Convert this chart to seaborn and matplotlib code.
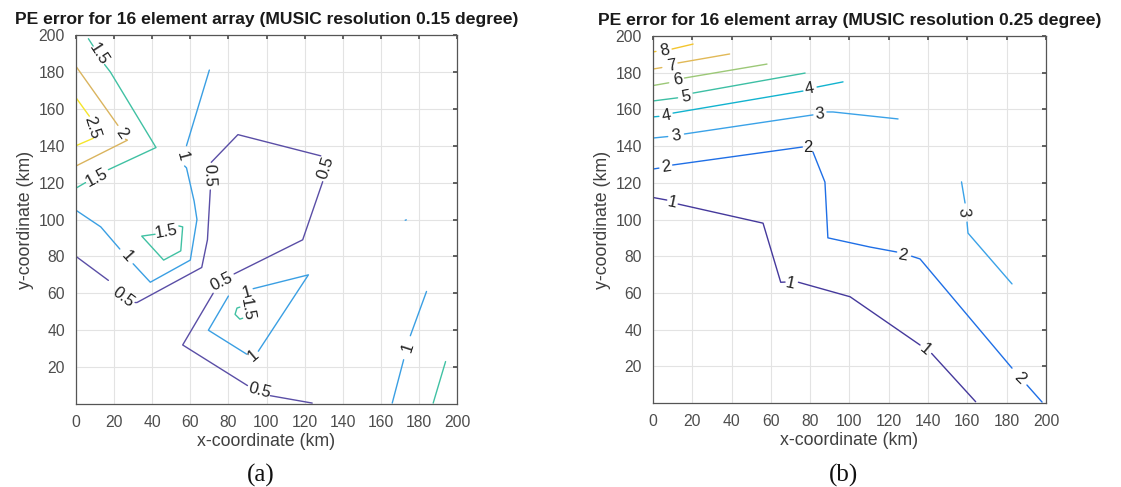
"""
PE error contours for a 16 element array, two MUSIC resolutions
"""

import pandas as pd
import seaborn as sns
import matplotlib.pyplot as plt

# ---- panel (a): MUSIC resolution 0.15 degree ----
a_level = [1.5, 1.5, 1.5, 2, 2, 2.5, 2.5,
           1, 1, 1,
           0.5, 0.5, 0.5, 0.5, 0.5, 0.5,
           1.5, 1, 1, 1.5, 1, 1, 1.5, 1]
a_x = [[6.5, 9], [15, 18, 42, 17], [5, 0],
       [0, 22], [26, 27, 0],
       [0, 7], [9, 0],
       [70, 58], [57, 58, 62, 63.5, 60, 39, 30], [23, 13, 0],
       [0, 17], [31, 32, 66, 69, 70.5], [71, 85, 128.5], [129.5, 119, 83],
       [72, 56, 90], [102, 124],
       [54, 56, 55, 46, 34.5, 41.5],
       [95.7, 122, 93], [80, 69.5, 89.6],
       [87.5, 86, 83.5, 84.5, 86],
       [166, 172], [175.5, 184],
       [187.5, 194],
       [172.8, 173.4]]
a_y = [[198, 194], [184, 180, 139, 127], [120, 117],
       [183, 151], [143.5, 143, 129],
       [166, 156], [144, 140],
       [181, 140], [129, 128, 110, 100, 78, 66, 76], [84, 96, 105],
       [80, 67], [55, 55, 74, 89, 116], [131, 146, 134.5], [120.5, 89, 70.5],
       [60, 32, 10], [4.5, 0.5],
       [96.5, 96, 83, 78, 91, 92],
       [28.6, 70, 62.5], [58.5, 40, 27],
       [46.5, 46, 48.6, 52, 52.5],
       [0.5, 24], [37, 61],
       [0.5, 23],
       [99.6, 99.8]]
a_lab_text = ["1.5", "1.5", "2", "2.5", "1", "1", "0.5", "0.5", "0.5", "0.5",
              "0.5", "1.5", "1", "1", "1.5", "1"]
a_lab_x = [12, 11, 24, 8.5, 56, 27, 25, 70, 131, 76.5, 96.5, 47.6, 90, 93, 90, 174]
a_lab_y = [189.5, 122.5, 147, 150, 134, 80, 58, 124, 128, 66, 7, 93.5, 60.5, 26, 51, 31]
a_lab_rot = [-57, 28, -55, -72, -75, -48, -37, -88, 72, 27, -15, 10, 15, 40, -80, 72]

# ---- panel (b): MUSIC resolution 0.25 degree ----
b_level = [8, 8, 7, 7, 6, 6, 5, 5, 4, 4, 4, 3, 3, 3,
           2, 2, 2, 2, 2, 1, 1, 1, 1, 3, 3]
b_x = [[0, 1.5], [9.7, 20.4],
       [0, 4.5], [12.7, 39],
       [0, 8], [16, 58],
       [0, 12.5], [20.4, 77.4],
       [0, 3], [10.2, 76.3], [83.5, 96.7],
       [0, 7.5], [16, 81.4], [88.5, 91.6, 124.7],
       [0, 3], [10, 76], [81.4, 87.5, 89, 110.4, 124], [131.6, 135.9, 182.7], [190.3, 198],
       [0, 7], [12.8, 56, 65, 67.2], [74, 100.3, 135.9], [141.8, 164.2],
       [157, 158.8], [159.8, 160.3, 182.7]]
b_y = [[191.3, 191.6], [192.9, 195.6],
       [182, 182.8], [185.3, 190.2],
       [173, 174.5], [177.1, 184.7],
       [164.6, 166.3], [168.9, 179.8],
       [155.9, 156.2], [158, 170], [172.2, 175],
       [144.4, 145.2], [146.6, 157], [158.6, 158.6, 154.8],
       [127.5, 128], [129.7, 139.5], [136.8, 120.4, 90, 85, 82.3], [80, 78.5, 19], [9.8, 0.5],
       [112, 110.6], [108.4, 98, 65.8, 65.9], [65.8, 57.9, 31.6], [27, 0.7],
       [120.5, 109], [98.6, 92.6, 64.9]]
b_lab_text = ["8", "7", "6", "5", "4", "4", "3", "3", "2", "2", "2", "2",
              "1", "1", "1", "3"]
b_lab_x = [6.1, 9.7, 12.7, 16.8, 7, 79.5, 12, 85, 6.6, 79, 127.2, 186.8,
           10, 69.7, 138.4, 158]
b_lab_y = [191.8, 183.8, 176, 166.8, 156.4, 171, 145.6, 157.6, 128.6, 139, 80.6, 13.6,
           109.4, 65.2, 29.3, 104]
b_lab_rot = [13, 10, 10, 10, 10, 10, 9, 5, 8, 0, -10, -45,
             -12, -12, -40, -85]

a_colors = {"0.5": "#5a4ea6", "1": "#3a9fe3", "1.5": "#40c1a3",
            "2": "#dab45e", "2.5": "#f5e52a"}
b_colors = {"1": "#45399c", "2": "#1f6fe6", "3": "#3aa2e8", "4": "#12b3cf",
            "5": "#3dbfa4", "6": "#9cc877", "7": "#e1b957", "8": "#f3c52e"}


def fmt(v):
    return f"{v:g}"


def to_frame(levels, xs, ys):
    rows = []
    for i, (lv, sx, sy) in enumerate(zip(levels, xs, ys)):
        for x, y in zip(sx, sy):
            rows.append({"seg": i, "level": fmt(lv), "x": x, "y": y})
    return pd.DataFrame(rows)


sns.set_theme(style="whitegrid")
plt.rcParams["font.family"] = ["Liberation Sans", "DejaVu Sans"]

fig = plt.figure(figsize=(11.21, 4.87), dpi=100)
ax_a = fig.add_axes([76 / 1121, 83 / 487, 381 / 1121, 369 / 487])
ax_b = fig.add_axes([653 / 1121, 84 / 487, 393 / 1121, 367 / 487])

panels = [
    (ax_a, a_level, a_x, a_y, a_colors, a_lab_text, a_lab_x, a_lab_y, a_lab_rot,
     "PE error for 16 element array (MUSIC resolution 0.15 degree)", "(a)"),
    (ax_b, b_level, b_x, b_y, b_colors, b_lab_text, b_lab_x, b_lab_y, b_lab_rot,
     "PE error for 16 element array (MUSIC resolution 0.25 degree)", "(b)"),
]

for ax, lv, xs, ys, pal, lt, lx, ly, lr, title, tag in panels:
    df = to_frame(lv, xs, ys)
    sns.lineplot(data=df, x="x", y="y", hue="level", units="seg", estimator=None,
                 sort=False, palette=pal, legend=False, linewidth=1.0, ax=ax)
    for t, x, y, r in zip(lt, lx, ly, lr):
        ax.text(x, y, t, rotation=r, ha="center", va="center", fontsize=12,
                color="#222222", rotation_mode="anchor")

    ax.set_xlim(0, 200)
    ax.set_ylim(0, 200)
    ax.set_xticks(range(0, 201, 20))
    ax.set_yticks(range(20, 201, 20))
    ax.tick_params(direction="in", length=3, labelsize=11.3, labelcolor="#4d4d4d",
                   color="#4d4d4d", top=True, right=True, pad=8,
                   labeltop=False, labelright=False)
    ax.grid(True, color="#e3e3e3", linewidth=0.8)
    for s in ax.spines.values():
        s.set_color("#555555")
        s.set_linewidth(0.9)
    ax.set_xlabel("x-coordinate (km)", fontsize=12.8, color="#404040", labelpad=2)
    ax.set_ylabel("y-coordinate (km)", fontsize=12.8, color="#404040", labelpad=3)
    ax.set_title(title, fontsize=12.6, fontweight="bold", color="#1a1a1a", pad=8)

    pos = ax.get_position()
    fig.text((pos.x0 + pos.x1) / 2 - 0.0055, 1 - 475 / 487, tag, ha="center",
             va="center", fontsize=18, family="Liberation Serif", color="#111111")

plt.savefig("out.png", dpi=100)
